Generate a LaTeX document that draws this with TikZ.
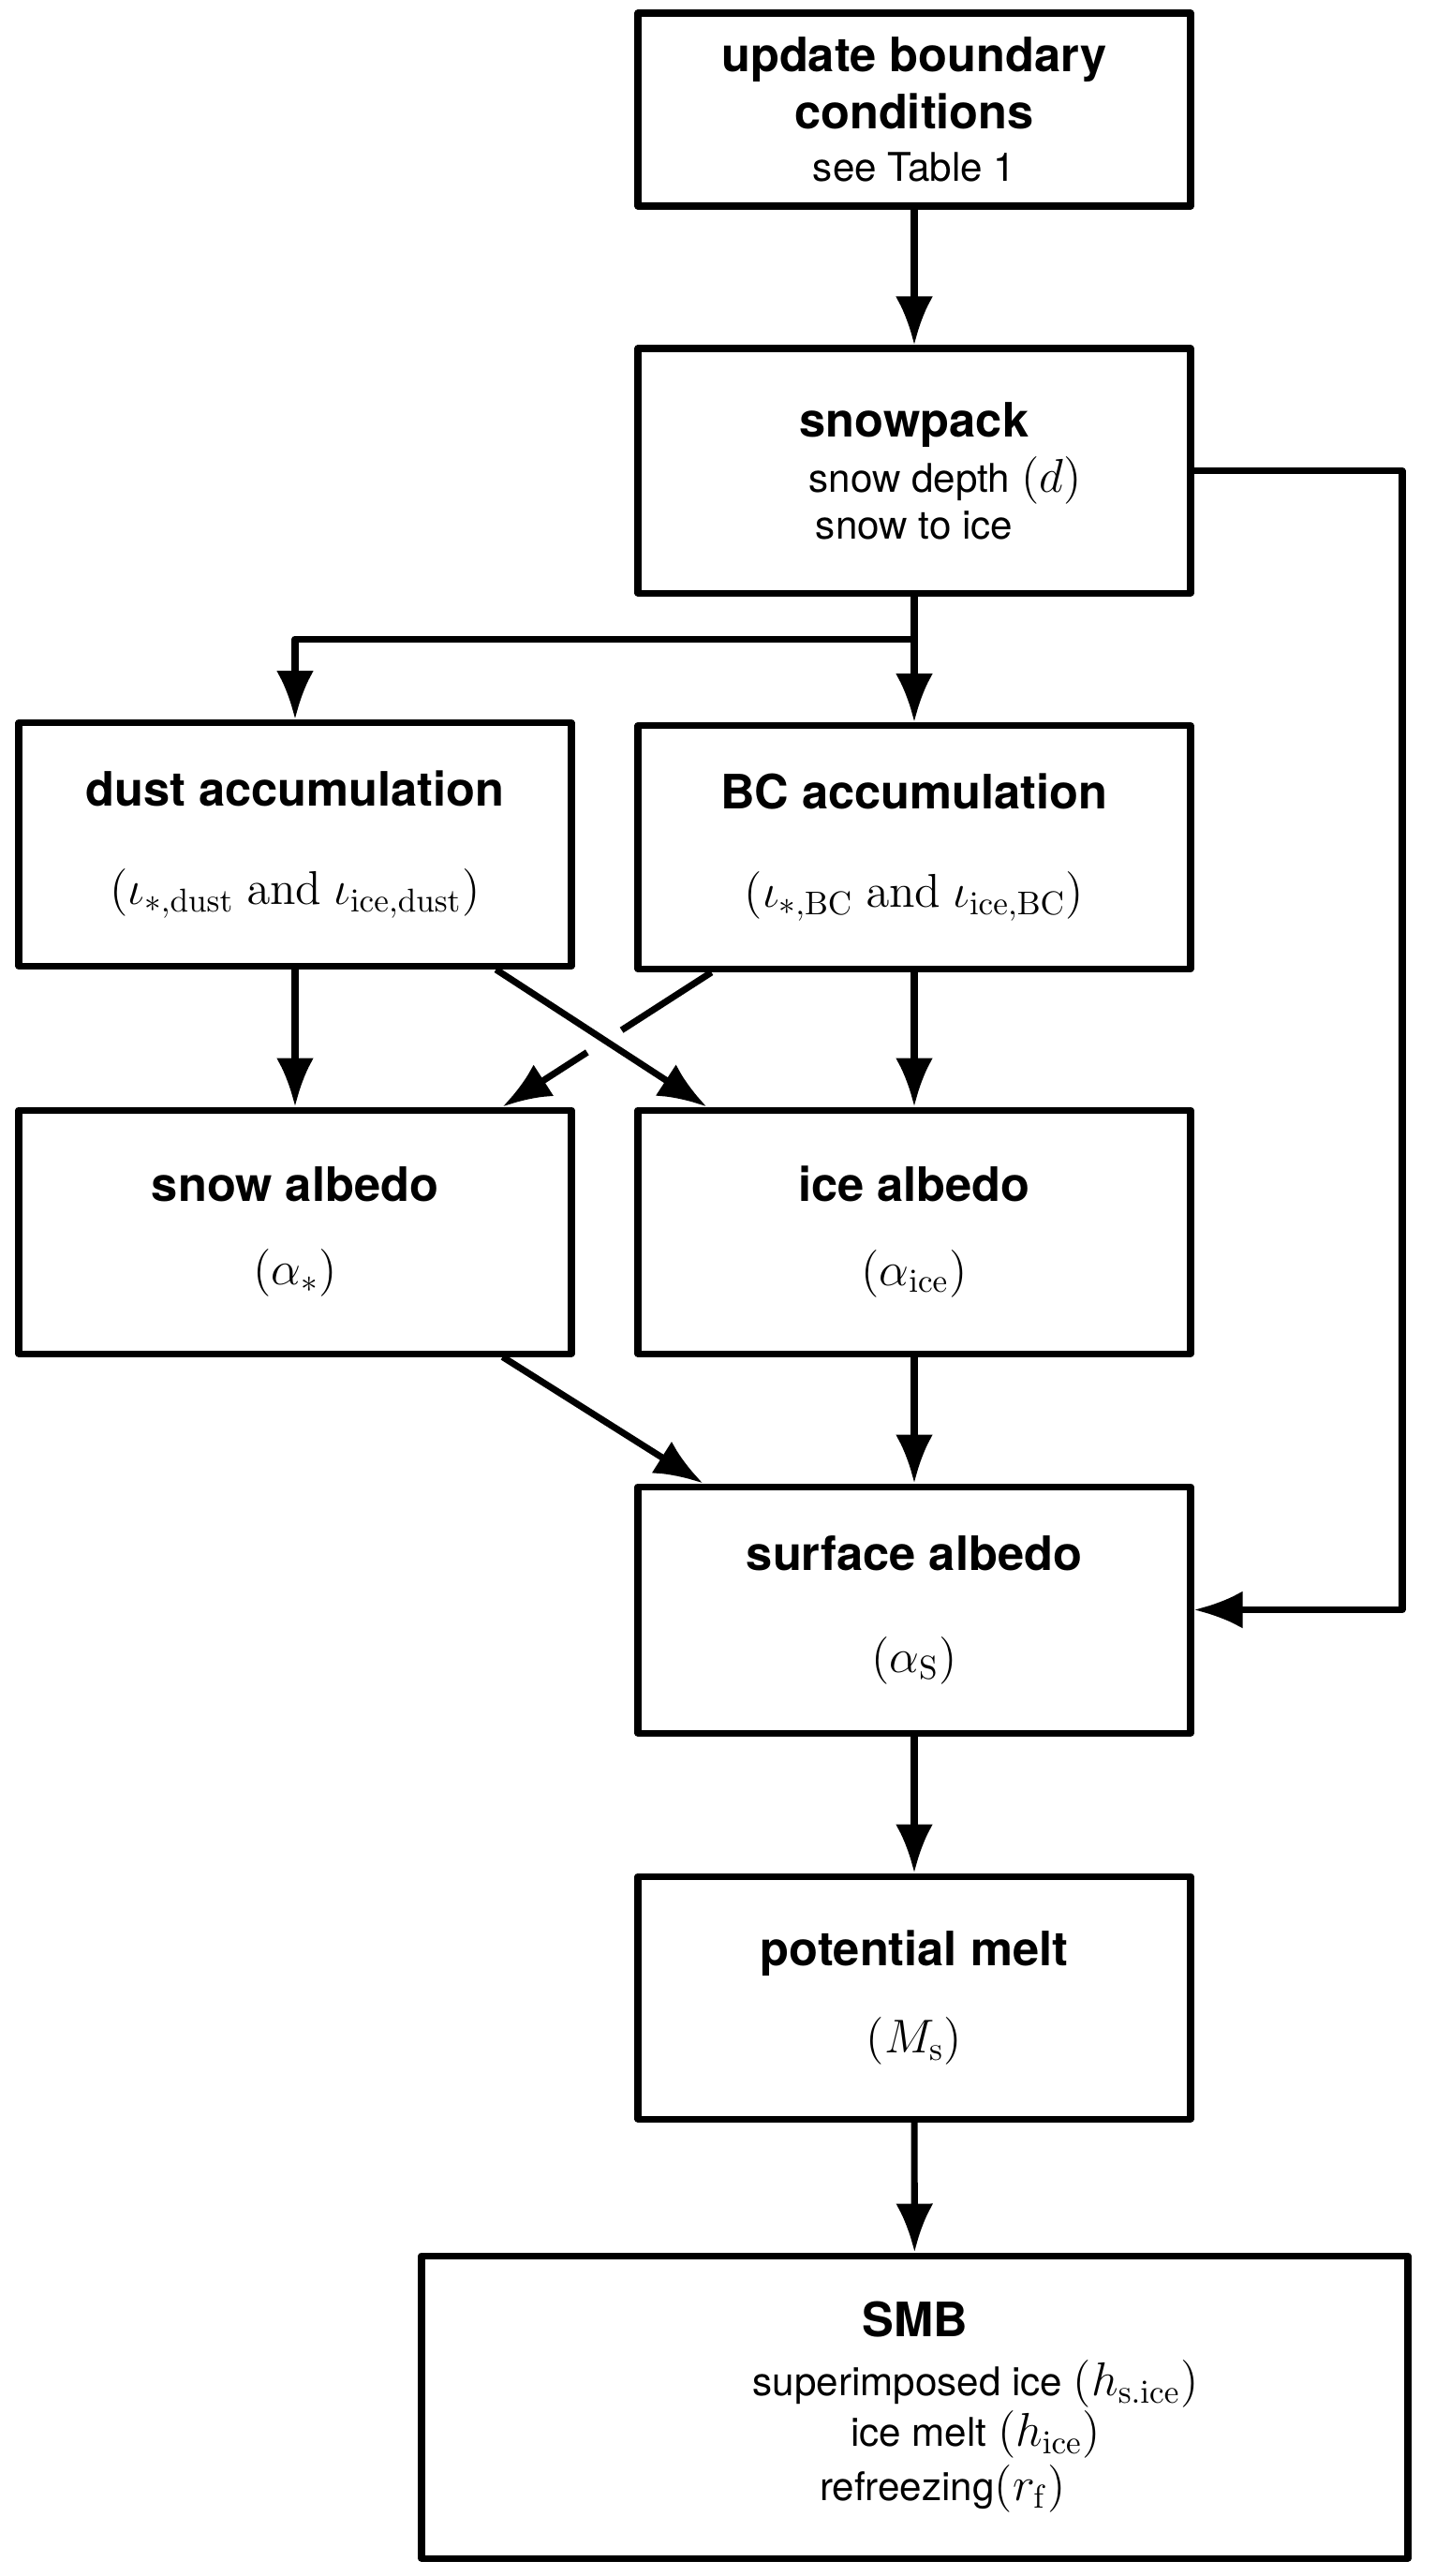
\documentclass[tikz,border=0pt]{standalone}
\usepackage[no-math]{fontspec}
\setmainfont{TeX Gyre Heros}
\usetikzlibrary{arrows.meta}
\newcommand{\boxtitle}{\bfseries\fontsize{14.4}{14}\selectfont}
\newcommand{\mathsize}{\fontsize{13.6}{14}\selectfont}
\begin{document}
\begin{tikzpicture}
		    [%%%%%%%%%%%%%%%%%%%%%%%%%%%%%%
		        box/.style={rectangle,draw=black,line width=2pt,line join=round,minimum width=5.9cm,minimum height=2.6cm,align=center,inner sep=0pt,font=\fontsize{12}{14}\selectfont},
		        arr/.style={line width=2pt,line join=round,-{Latex[length=5.2mm,width=4mm]}},
		    ]%%%%%%%%%%%%%%%%%%%%%%%%%%%%%%
		\useasboundingbox (0,0) rectangle (15.33,-27.5);
		\node[box, minimum height=2.06cm] (bcond) at (9.76,-1.17) {{\boxtitle update boundary}\\[3.4pt]{\boxtitle conditions}\\[2pt]see Table 1};
		\node[box, minimum height=2.61cm] (snowpack) at (9.76,-5.025) {{\boxtitle snowpack}\\[3pt]\hspace*{0.66cm}snow depth {\mathsize$(d)$}\\snow to ice};
		\node[box] (dust) at (3.15,-9.015) {{\boxtitle dust accumulation}\\[16pt]{\mathsize$(\iota_{*,\mathrm{dust}}\ \mathrm{and}\ \iota_{\mathrm{ice},\mathrm{dust}})$}};
		\node[box] (bcacc) at (9.76,-9.045) {{\boxtitle BC accumulation}\\[16pt]{\mathsize$(\iota_{*,\mathrm{BC}}\ \mathrm{and}\ \iota_{\mathrm{ice},\mathrm{BC}})$}};
		\node[box] (snow) at (3.15,-13.15) {{\boxtitle snow albedo}\\[11.5pt]{\mathsize$(\alpha_{*})$}};
		\node[box] (ice) at (9.76,-13.15) {{\boxtitle ice albedo}\\[11.5pt]{\mathsize$(\alpha_{\mathrm{ice}})$}};
		\node[box, minimum height=2.63cm] (surface) at (9.76,-17.185) {{\boxtitle surface albedo}\\[17pt]{\mathsize$(\alpha_{\mathrm{S}})$}};
		\node[box, minimum height=2.59cm] (melt) at (9.76,-21.325) {{\boxtitle potential melt}\\[12.5pt]{\mathsize$(M_{\mathrm{s}})$}};
		\node[box, minimum width=10.53cm, minimum height=3.23cm] (smb) at (9.765,-25.695) {{\boxtitle SMB}\\[4pt]\hspace*{1.3cm}superimposed ice {\mathsize$(h_{\mathrm{s.ice}})$}\\\hspace*{1.3cm}ice melt {\mathsize$(h_{\mathrm{ice}})$}\\[1pt]\hspace*{0.6cm}refreezing{\mathsize$(r_{\mathrm{f}})$}};
		\coordinate (split) at (9.76,-6.82);
		\coordinate (loop) at (14.97,-5.025);
		\draw[arr] (bcond) -- (snowpack);
		\draw[line width=2pt] (snowpack.south) -- (split);
		\draw[arr] (split) -| (dust.north);
		\draw[arr] (split) -- (bcacc.north);
		\draw[arr] (snowpack.east) -- (loop) |- (surface.east);
		\draw[arr] (dust) -- (snow);
		\draw[arr] (bcacc) -- (ice);
		\draw[arr] ([xshift=-0.84cm]dust.south east) -- ([xshift=0.77cm]ice.north west);
		\path ([xshift=0.82cm]bcacc.south west) -- ([xshift=-0.77cm]snow.north east) coordinate[pos=0.43] (gapa) coordinate[pos=0.595] (gapb);
		\draw[line width=2pt] ([xshift=0.82cm]bcacc.south west) -- (gapa);
		\draw[arr] (gapb) -- ([xshift=-0.77cm]snow.north east);
		\draw[arr] ([xshift=-0.77cm]snow.south east) -- ([xshift=0.73cm]surface.north west);
		\draw[arr] (ice) -- (surface);
		\draw[arr] (surface) -- (melt);
		\draw[arr] (melt) -- (smb);
		\end{tikzpicture}
\end{document}
